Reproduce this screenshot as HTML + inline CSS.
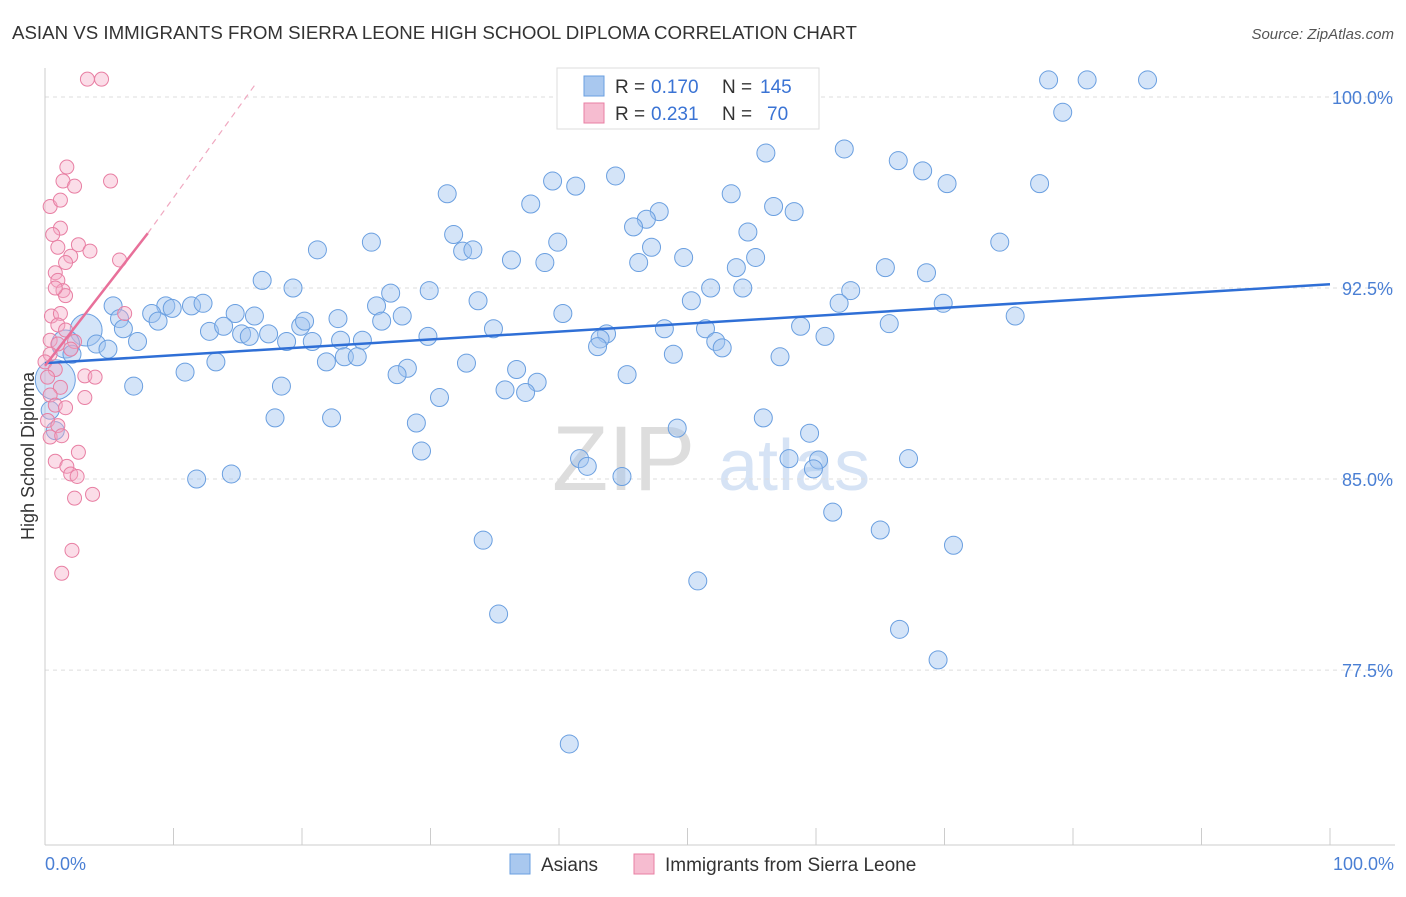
<!DOCTYPE html>
<html><head><meta charset="utf-8"><style>
body{margin:0;background:#fff;font-family:"Liberation Sans",sans-serif;}
svg text{font-family:"Liberation Sans",sans-serif;}
</style></head><body>
<svg id="chart" width="1406" height="892" xmlns="http://www.w3.org/2000/svg">
<text x="12" y="39" font-size="18.7" fill="#333">ASIAN VS IMMIGRANTS FROM SIERRA LEONE HIGH SCHOOL DIPLOMA CORRELATION CHART</text>
<text x="1394" y="39" font-size="15" fill="#555" font-style="italic" text-anchor="end">Source: ZipAtlas.com</text>
<text x="34" y="456" font-size="18" fill="#333" text-anchor="middle" transform="rotate(-90 34 456)">High School Diploma</text>
<g><text x="552" y="490" font-size="92" fill="#ddd" font-family="Liberation Serif">ZIP</text><text x="718" y="490" font-size="72" fill="#d6e3f5">atlas</text></g>
<g id="grid"></g><g id="pts"></g><g id="lines"></g>
<g>
<rect x="557" y="68" width="262" height="61" fill="#fff" stroke="#ddd"/>
<rect x="584" y="76" width="20" height="20" fill="#a9c8ef" stroke="#6a9fe0"/>
<rect x="584" y="103" width="20" height="20" fill="#f6bcd0" stroke="#e87fa3"/>
<text x="615" y="93" font-size="19" fill="#333">R =</text><text x="651" y="93" font-size="19" fill="#3a73d4">0.170</text>
<text x="722" y="93" font-size="19" fill="#333">N =</text><text x="760" y="93" font-size="19" fill="#3a73d4">145</text>
<text x="615" y="120" font-size="19" fill="#333">R =</text><text x="651" y="120" font-size="19" fill="#3a73d4">0.231</text>
<text x="722" y="120" font-size="19" fill="#333">N =</text><text x="767" y="120" font-size="19" fill="#3a73d4">70</text>
</g>
<g>
<rect x="510" y="854" width="20" height="20" fill="#a9c8ef" stroke="#6a9fe0"/>
<text x="541" y="871" font-size="19" fill="#333">Asians</text>
<rect x="634" y="854" width="20" height="20" fill="#f6bcd0" stroke="#e87fa3"/>
<text x="665" y="871" font-size="19" fill="#333">Immigrants from Sierra Leone</text>
</g>
</svg>
<script>
const yTicks=[100,92.5,85,77.5];
const yTickLabels=["100.0%","92.5%","85.0%","77.5%"];
const xTickLabels=["0.0%","100.0%"];
const blueX=[78.1,81.1,85.8,79.2,56.1,62.2,66.4,68.3,70.2,77.4,44.4,39.5,41.3,31.3,53.4,37.8,56.7,58.3,47.8,46.8,45.8,31.8,54.7,39.9,25.4,74.3,21.2,32.5,33.3,47.2,36.3,38.9,46.2,49.7,55.3,53.8,65.4,68.6,16.9,19.3,26.9,29.9,51.8,54.3,62.7,5.3,9.4,11.4,12.3,9.9,8.3,33.7,50.3,61.8,69.9,14.8,16.3,25.8,27.8,40.3,5.8,8.8,75.5,6.1,12.8,13.9,19.9,22.8,20.2,26.2,34.9,48.2,51.4,58.8,65.7,15.3,15.9,17.4,18.8,20.8,23.0,24.7,29.8,43.7,60.7,3.2,4.0,4.9,1.6,2.1,7.2,43.2,43.0,52.2,52.7,48.9,57.2,21.9,23.3,24.3,32.8,10.9,13.3,28.2,27.4,36.7,45.3,38.3,0.8,6.9,18.4,35.8,37.4,30.7,17.9,22.3,28.9,55.9,49.2,59.5,29.3,41.6,42.2,57.9,60.2,59.8,67.2,11.8,14.5,44.9,61.3,65.0,34.1,70.7,50.8,35.3,66.5,69.5,40.8,0.8,0.4];
const blueY=[100.67,100.67,100.67,99.4,97.8,97.96,97.5,97.1,96.6,96.6,96.9,96.7,96.5,96.2,96.2,95.8,95.7,95.5,95.5,95.2,94.9,94.6,94.7,94.3,94.3,94.3,94.0,93.95,94.0,94.1,93.6,93.5,93.5,93.7,93.7,93.3,93.3,93.1,92.8,92.5,92.3,92.4,92.5,92.5,92.4,91.8,91.8,91.8,91.9,91.7,91.5,92.0,92.0,91.9,91.9,91.5,91.4,91.8,91.4,91.5,91.3,91.2,91.4,90.9,90.8,91.0,91.0,91.3,91.2,91.2,90.9,90.9,90.9,91.0,91.1,90.7,90.6,90.7,90.4,90.4,90.45,90.45,90.6,90.7,90.6,90.85,90.3,90.1,90.3,89.9,90.4,90.5,90.2,90.4,90.15,89.9,89.8,89.6,89.8,89.8,89.55,89.2,89.6,89.35,89.1,89.3,89.1,88.8,88.9,88.65,88.65,88.5,88.4,88.2,87.4,87.4,87.2,87.4,87.0,86.8,86.1,85.8,85.5,85.8,85.75,85.4,85.8,85.0,85.2,85.1,83.7,83.0,82.6,82.4,81.0,79.7,79.1,77.9,74.6,86.9,87.7];
const blueR=[];for(let i=0;i<blueX.length;i++)blueR.push(9);
blueR[85]=16;blueR[108]=20;blueR[143]=14;blueR[88]=14;
const pinkX=[3.3,4.4,1.7,1.4,2.3,5.1,0.4,1.2,1.2,0.6,1.0,2.6,3.5,2.0,1.6,5.8,0.8,1.0,1.4,1.6,0.8,0.5,1.2,1.0,1.6,6.2,0.4,1.0,2.3,2.0,0.4,0,0.8,0.2,3.1,3.9,1.2,0.4,3.1,0.8,1.6,0.2,1.0,0.4,1.3,2.6,0.8,1.7,2.0,2.5,2.3,3.7,2.1,1.3];
const pinkY=[100.7,100.7,97.25,96.7,96.5,96.7,95.7,95.95,94.85,94.6,94.1,94.2,93.95,93.75,93.5,93.6,93.1,92.8,92.4,92.2,92.5,91.4,91.5,91.05,90.85,91.5,90.45,90.3,90.4,90.1,89.9,89.6,89.3,89.0,89.05,89.0,88.6,88.3,88.2,87.9,87.8,87.3,87.1,86.65,86.7,86.05,85.7,85.5,85.2,85.1,84.25,84.4,82.2,81.3];
const blueTrend=[[0,89.55],[100,92.65]];
const pinkTrend=[[0,89.45],[8,94.65]];
const pinkDash=[[8,94.65],[16.3,100.45]];
const X=v=>45+v*12.85, Y=v=>97+(100-v)*25.47;
const NS="http://www.w3.org/2000/svg";
function mk(t,a,p){const e=document.createElementNS(NS,t);for(const k in a)e.setAttribute(k,a[k]);p.appendChild(e);return e;}
const grid=document.getElementById('grid');
yTicks.forEach((t,i)=>{
 const l=mk('line',{x1:45,x2:1395,y1:Y(t),y2:Y(t),stroke:'#ddd','stroke-dasharray':'4,4'},grid);
 
 
 const tx=mk('text',{x:1393,y:Y(t)+7,'font-size':18,fill:'#4a7fd4','text-anchor':'end'},grid);tx.textContent=yTickLabels[i];
 
 
});
mk('line',{x1:45,x2:45,y1:68,y2:845,stroke:'#ccc'},grid);
mk('line',{x1:45,x2:1395,y1:845,y2:845,stroke:'#ccc'},grid);
for(let i=0;i<=10;i++){const t=mk('line',{x1:X(i*10),x2:X(i*10),y1:828,y2:845,stroke:'#ccc'},grid);
 
 }
[[0,'start',45],[1,'end',1394]].forEach(([i,a,x])=>{const t=mk('text',{x:x,y:870,'font-size':18,fill:'#4a7fd4','text-anchor':a},grid);t.textContent=xTickLabels[i];
 
 });
const pts=document.getElementById('pts');
blueX.forEach((x,i)=>{const c=mk('circle',{cx:X(x),cy:Y(blueY[i]),r:blueR[i],fill:'rgba(160,195,240,0.45)',stroke:'#6a9fe0','stroke-width':1},pts);
 
 });
pinkX.forEach((x,i)=>{const c=mk('circle',{cx:X(x),cy:Y(pinkY[i]),r:7,fill:'rgba(244,170,198,0.4)',stroke:'#e87fa3','stroke-width':1},pts);
 
 });
const ln=document.getElementById('lines');
const b=mk('line',{x1:X(blueTrend[0][0]),y1:Y(blueTrend[0][1]),x2:X(blueTrend[1][0]),y2:Y(blueTrend[1][1]),stroke:'#2f6fd6','stroke-width':2.5},ln);


const p=mk('line',{x1:X(pinkTrend[0][0]),y1:Y(pinkTrend[0][1]),x2:X(pinkTrend[1][0]),y2:Y(pinkTrend[1][1]),stroke:'#e8709a','stroke-width':2.5},ln);


const d=mk('line',{x1:X(pinkDash[0][0]),y1:Y(pinkDash[0][1]),x2:X(pinkDash[1][0]),y2:Y(pinkDash[1][1]),stroke:'#f0a8c0','stroke-width':1.2,'stroke-dasharray':'6,5'},ln);


</script>
</body></html>
